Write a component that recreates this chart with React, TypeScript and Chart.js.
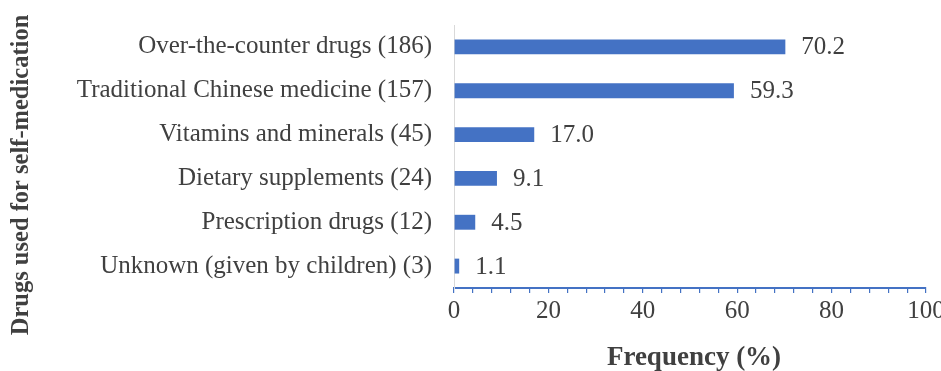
import React, { useEffect, useRef } from "react";
import { Chart, registerables } from "chart.js";

Chart.register(...registerables);

const categories = [
  "Over-the-counter drugs (186)",
  "Traditional Chinese medicine (157)",
  "Vitamins and minerals (45)",
  "Dietary supplements (24)",
  "Prescription drugs (12)",
  "Unknown (given by children) (3)",
];
const values = [70.2, 59.3, 17.0, 9.1, 4.5, 1.1];
const majorTicks = [0, 20, 40, 60, 80, 100];
const xTitle = "Frequency (%)";
const yTitle = "Drugs used for self-medication";

const FONT = '"Liberation Serif", "Times New Roman", serif';
const TEXT = "#404040";
const BLUE = "#4472C4";

const labelsPlugin = {
  id: "labelsAndTitles",
  afterDatasetsDraw(chart: any) {
    const ctx = chart.ctx;
    ctx.save();
    const meta = chart.getDatasetMeta(0);
    ctx.font = `25px ${FONT}`;
    ctx.fillStyle = TEXT;
    ctx.textAlign = "left";
    ctx.textBaseline = "middle";
    meta.data.forEach((el: any, i: number) => {
      ctx.fillText(values[i].toFixed(1), el.x + 16, el.y + 1);
    });
    // x title
    ctx.font = `bold 27px ${FONT}`;
    ctx.textAlign = "center";
    ctx.textBaseline = "alphabetic";
    ctx.fillText(xTitle, 694, 365);
    // y title
    ctx.translate(28, 175);
    ctx.rotate(-Math.PI / 2);
    ctx.font = `bold 24.5px ${FONT}`;
    ctx.textBaseline = "alphabetic";
    ctx.fillText(yTitle, 0, 0);
    ctx.restore();
  },
};

export default function App() {
  const ref = useRef<HTMLCanvasElement>(null);
  useEffect(() => {
    const chart = new Chart(ref.current as HTMLCanvasElement, {
      type: "bar",
      data: {
        labels: categories,
        datasets: [
          {
            data: values,
            backgroundColor: BLUE,
            borderWidth: 0,
            categoryPercentage: 1,
            barPercentage: 0.34,
          },
        ],
      },
      options: {
        indexAxis: "y",
        animation: false,
        responsive: true,
        maintainAspectRatio: false,
        layout: { padding: { top: 25, right: 15, left: 0, bottom: 0 } },
        plugins: {
          legend: { display: false },
          tooltip: { enabled: false },
        },
        scales: {
          x: {
            type: "linear",
            min: 0,
            max: 100,
            afterFit(scale: any) {
              scale.height = 83;
              scale.paddingRight = 15;
              scale.paddingLeft = 0;
            },
            ticks: {
              stepSize: 4,
              autoSkip: false,
              maxRotation: 0,
              padding: 3,
              color: TEXT,
              font: { family: FONT, size: 25 },
              callback: (v: any) => (majorTicks.includes(Number(v)) ? String(v) : ""),
            },
            grid: {
              display: true,
              drawOnChartArea: false,
              drawTicks: true,
              tickLength: 5,
              color: BLUE,
              lineWidth: 1.2,
            },
            border: { display: true, color: BLUE, width: 2 },
          },
          y: {
            type: "category",
            afterFit(scale: any) {
              scale.width = 454;
              scale.paddingTop = 0;
              scale.paddingBottom = 0;
            },
            ticks: {
              padding: 22,
              color: TEXT,
              font: { family: FONT, size: 25 },
            },
            grid: { display: true, drawOnChartArea: false, drawTicks: false },
            border: { display: true, color: "#d9d9d9", width: 1 },
          },
        },
      },
      plugins: [labelsPlugin],
    });
    return () => chart.destroy();
  }, []);
  return (
    <div style={{ position: "absolute", left: 0, top: 0, width: 941, height: 371 }}>
      <canvas ref={ref} />
    </div>
  );
}
